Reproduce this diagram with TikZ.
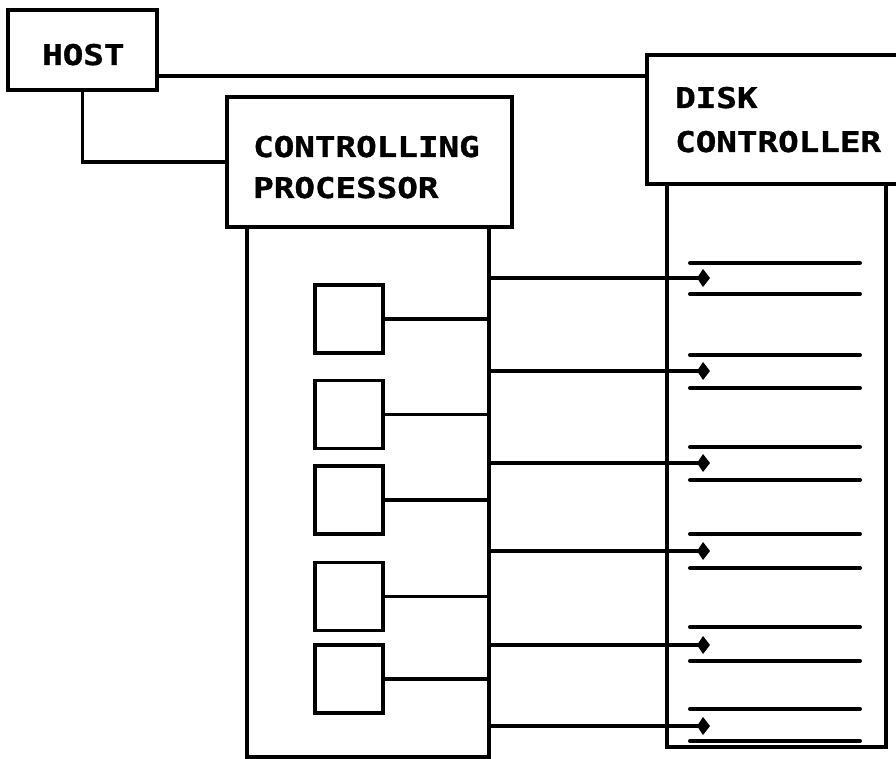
\documentclass[tikz,border=0pt]{standalone}
\usepackage{fontspec}
\newfontfamily\plotfont[FakeStretch=1.2,FakeBold=1.2]{DejaVu Sans Mono Bold}
\usetikzlibrary{arrows.meta,calc}
\begin{document}
\begin{tikzpicture}[x=1pt,y=-1pt,
  box/.style={draw,line width=3.5pt,rectangle,inner sep=0pt,outer sep=0pt},
  smallbox/.style={box,minimum width=68pt,minimum height=68pt},
  wire/.style={line width=3.5pt},
  feed/.style={line width=3.5pt,-{Kite[length=13pt,width=18pt,inset=6pt]}},
  track/.style={line width=4pt,line cap=round},
  lbl/.style={anchor=base west,inner sep=0pt,font=\plotfont\fontsize{28.5}{30}\selectfont}]
\useasboundingbox[fill=white] (0,0) rectangle (896,759);
% boxes
\node[box,minimum width=149pt,minimum height=80pt] (host) at (82.5,50) {};
\node[box,minimum width=285pt,minimum height=130pt] (cp) at (369.5,162) {};
\node[box,minimum width=242pt,minimum height=530pt] (cpt) at (368,492) {};
\node[box,minimum width=260pt,minimum height=129pt] (dc) at (777,119.5) {};
\node[box,minimum width=219pt,minimum height=563pt] (dct) at (776.5,465.5) {};
% labels
\node[lbl] (thost) at (42,65) {HOST};
\node[lbl] (tcp1) at (253,157) {CONTROLLING};
\node[lbl] (tcp2) at (253,198) {PROCESSOR};
\node[lbl] (tdc1) at (675,108) {DISK};
\node[lbl] (tdc2) at (675,152) {CONTROLLER};
% small boxes
\node[smallbox] (s1) at (349,319) {};
\node[smallbox] (s2) at (349,414.5) {};
\node[smallbox] (s3) at (349,500) {};
\node[smallbox] (s4) at (349,596.5) {};
\node[smallbox] (s5) at (349,679) {};
% host connections
\coordinate (hl) at (157,76);
\draw[wire] (hl) -- (hl -| dc.west);
\draw[wire] (host.south) |- (cp.west);
% small box links
\foreach \i in {1,...,5} \draw[wire] (s\i.east) -- (s\i.east -| cpt.east);
% feeds to disk
\foreach \i/\y in {1/278,2/371,3/463,4/551,5/645,6/726}{
  \coordinate (a\i) at (710,\y);
  \draw[feed] (cpt.east |- a\i) -- (a\i);
}
% disk tracks
\foreach \i/\ya/\yb in {1/263/294,2/355/388,3/447/480,4/534/568,5/627/661,6/709/741}{
  \coordinate (p\i) at (690,\ya);
  \coordinate (q\i) at (690,\yb);
  \draw[track] (p\i) -- ++(170,0);
  \draw[track] (q\i) -- ++(170,0);
}
\end{tikzpicture}
\end{document}
